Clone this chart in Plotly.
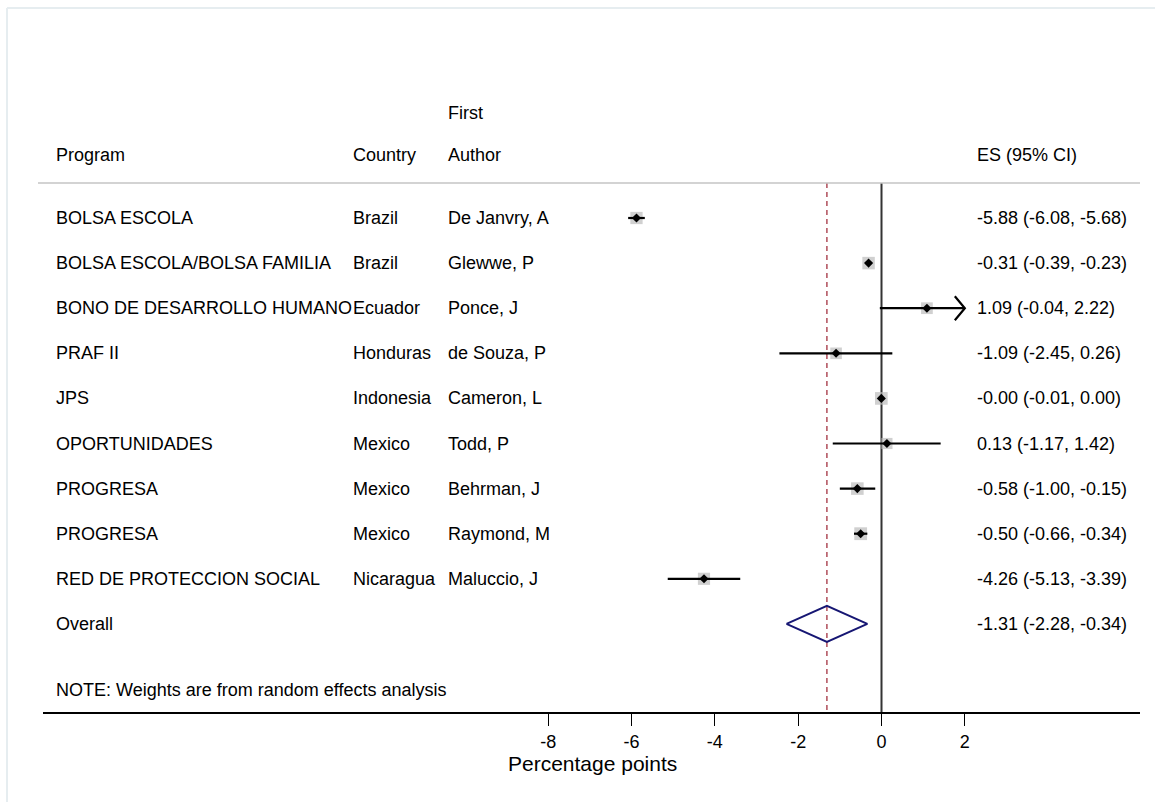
import plotly.graph_objects as go

# ---------------- data ----------------
programs = ["BOLSA ESCOLA", "BOLSA ESCOLA/BOLSA FAMILIA", "BONO DE DESARROLLO HUMANO",
            "PRAF II", "JPS", "OPORTUNIDADES", "PROGRESA", "PROGRESA",
            "RED DE PROTECCION SOCIAL"]
countries = ["Brazil", "Brazil", "Ecuador", "Honduras", "Indonesia", "Mexico",
             "Mexico", "Mexico", "Nicaragua"]
authors = ["De Janvry, A", "Glewwe, P", "Ponce, J", "de Souza, P", "Cameron, L",
           "Todd, P", "Behrman, J", "Raymond, M", "Maluccio, J"]
es = [-5.88, -0.31, 1.09, -1.09, -0.004, 0.13, -0.58, -0.50, -4.26]
ci_lo = [-6.08, -0.39, -0.04, -2.45, -0.01, -1.17, -1.00, -0.66, -5.13]
ci_hi = [-5.68, -0.23, 2.22, 0.26, 0.00, 1.42, -0.15, -0.34, -3.39]
weights = [11.6, 12.0, 10.6, 10.4, 12.4, 9.6, 12.2, 12.6, 11.4]   # % (box sizes)
overall = [-1.31, -2.28, -0.34]  # ES, lower, upper
xticks = [-8, -6, -4, -2, 0, 2]
headers = ["Program", "Country", "Author", "ES (95% CI)"]
note = "NOTE: Weights are from random effects analysis"
xtitle = "Percentage points"

# ---------------- layout constants ----------------
W, H = 1155, 802
FONT = "Liberation Sans, Arial, sans-serif"
X0PX, PXU = 881.5, 41.67          # pixel of x=0, pixels per unit
ROW0PX, ROWPX = 218.0, 45.1        # pixel of first row, pixels per row
AX_L, AX_R, AX_B, TOP = 43, 1140, 712, 8
XMAX_SHOW = 2.0                    # CI clipping limit (arrow)

def px2x(p):
    return (p - X0PX) / PXU

def py2row(p):
    return (p - ROW0PX) / ROWPX

n = len(programs)
rows = list(range(n))
row_overall = n
row_note = py2row(690)
row_hdr = py2row(155)
row_first = py2row(113)
row_line = py2row(183)
row_bottom = py2row(AX_B)

fig = go.Figure()

# zero line and overall dashed line
fig.add_trace(go.Scatter(x=[0, 0], y=[row_line, row_bottom], mode="lines",
                         line=dict(color="#333333", width=2), hoverinfo="skip"))
fig.add_trace(go.Scatter(x=[overall[0], overall[0]], y=[row_line, row_bottom], mode="lines",
                         line=dict(color="#a3313f", width=1.3, dash="5px,4px"),
                         hoverinfo="skip"))

# weight boxes
fig.add_trace(go.Scatter(x=es, y=rows, mode="markers",
                         marker=dict(symbol="square", color="#bcbcbc",
                                     size=[3.6 * w ** 0.5 for w in weights],
                                     line=dict(width=0)),
                         hoverinfo="skip"))

# CI lines (clipped with arrow)
cx, cy = [], []
ax, ay = [], []
for r, lo, hi in zip(rows, ci_lo, ci_hi):
    end = min(hi, XMAX_SHOW)
    cx += [lo, end, None]
    cy += [r, r, None]
    if hi > XMAX_SHOW:
        dx, dy = 10 / PXU, 12 / ROWPX
        ax += [end - dx, end, end - dx, None]
        ay += [r - dy, r, r + dy, None]
fig.add_trace(go.Scatter(x=cx, y=cy, mode="lines", line=dict(color="black", width=2.2),
                         hoverinfo="skip"))
fig.add_trace(go.Scatter(x=ax, y=ay, mode="lines", line=dict(color="black", width=2.2),
                         hoverinfo="skip"))

# point estimates
fig.add_trace(go.Scatter(x=es, y=rows, mode="markers",
                         marker=dict(symbol="diamond", color="black", size=7),
                         hoverinfo="skip"))

# overall diamond
dh = 18 / ROWPX
fig.add_trace(go.Scatter(x=[overall[1], overall[0], overall[2], overall[0], overall[1]],
                         y=[row_overall, row_overall - dh, row_overall, row_overall + dh, row_overall],
                         mode="lines", line=dict(color="#161673", width=2), hoverinfo="skip"))

# ---------------- text ----------------
col_px = {"prog": 56, "country": 353, "author": 448, "es": 977}
ann = []

def txt(xpx, row, s, size=18):
    ann.append(dict(x=xpx / W, xref="paper", y=row, yref="y", text=s, showarrow=False,
                    xanchor="left", yanchor="middle", borderpad=0, borderwidth=0,
                    font=dict(family=FONT, size=size, color="black")))

txt(col_px["prog"], row_hdr, headers[0])
txt(col_px["country"], row_hdr, headers[1])
txt(col_px["author"], row_first, "First")
txt(col_px["author"], row_hdr, headers[2])
txt(col_px["es"], row_hdr, headers[3])
for r in rows:
    txt(col_px["prog"], r, programs[r])
    txt(col_px["country"], r, countries[r])
    txt(col_px["author"], r, authors[r])
    txt(col_px["es"], r, f"{es[r]:.2f} ({ci_lo[r]:.2f}, {ci_hi[r]:.2f})")
txt(col_px["prog"], row_overall, "Overall")
txt(col_px["es"], row_overall, f"{overall[0]:.2f} ({overall[1]:.2f}, {overall[2]:.2f})")
txt(col_px["prog"], row_note, note)

ann.append(dict(x=592 / W, xref="paper", y=1 - 763 / H, yref="paper", text=xtitle,
                showarrow=False, xanchor="center", yanchor="middle",
                borderpad=0, borderwidth=0,
                font=dict(family=FONT, size=21, color="black")))

shapes = [
    # header separator
    dict(type="line", xref="paper", yref="y", x0=38 / W, x1=AX_R / W, y0=row_line, y1=row_line,
         line=dict(color="#c4c4c4", width=1.5)),
    # faint outer frame
    dict(type="line", xref="paper", yref="paper", x0=7 / W, x1=1, y0=1 - TOP / H, y1=1 - TOP / H,
         line=dict(color="#e6edf0", width=2)),
    dict(type="line", xref="paper", yref="paper", x0=7 / W, x1=7 / W, y0=0, y1=1 - TOP / H,
         line=dict(color="#e6edf0", width=2)),
]

fig.update_layout(
    width=W, height=H, margin=dict(l=0, r=0, t=0, b=0),
    paper_bgcolor="white", plot_bgcolor="white", showlegend=False,
    annotations=ann, shapes=shapes,
    xaxis=dict(domain=[AX_L / W, AX_R / W], range=[px2x(AX_L), px2x(AX_R)],
               showline=True, linecolor="black", linewidth=2,
               ticks="outside", ticklen=12, tickwidth=1.2, tickcolor="black",
               tickvals=xticks, ticktext=[str(t) for t in xticks],
               tickfont=dict(family=FONT, size=18, color="black"),
               showgrid=False, zeroline=False, fixedrange=True),
    yaxis=dict(domain=[1 - AX_B / H, 1 - TOP / H], range=[row_bottom, py2row(TOP)],
               visible=False, showgrid=False, zeroline=False, fixedrange=True),
)

fig.write_html("out.html", config={"displayModeBar": False})
